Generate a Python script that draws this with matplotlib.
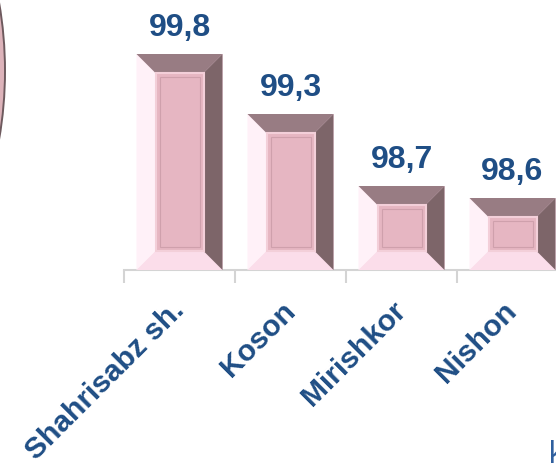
import matplotlib
matplotlib.use("Agg")
import matplotlib.pyplot as plt
from matplotlib.patches import Polygon, Rectangle, Ellipse
from matplotlib.transforms import ScaledTranslation

# data
districts = ["Shahrisabz sh.", "Koson", "Mirishkor", "Nishon"]
values = [99.8, 99.3, 98.7, 98.6]
value_labels = ["99,8", "99,3", "98,7", "98,6"]

plt.rcParams["font.family"] = ["Liberation Sans", "DejaVu Sans"]

W, H, DPI = 556, 466, 100
fig = plt.figure(figsize=(W / DPI, H / DPI), dpi=DPI)
fig.patch.set_facecolor("white")

# background layer in pixel coords for the cut-off decorative circle
bg = fig.add_axes([0, 0, 1, 1], zorder=-1)
bg.set_xlim(0, W)
bg.set_ylim(H, 0)
bg.axis("off")
bg.add_patch(Ellipse((-300, 71), 610, 700, facecolor="#DDB3BA",
                     edgecolor="#6E5A5E", linewidth=1.4))

# axes: baseline at y=270px, category width 111px, first boundary at x=124px
ax_left, ax_bottom = 124, H - 270
ax_w, ax_h = 111 * 4, 240
ax = fig.add_axes([ax_left / W, ax_bottom / H, ax_w / W, ax_h / H])
ax.set_xlim(-0.5, 3.5)
ax.set_ylim(98.0, 100.0)
ax.patch.set_alpha(0)

x = list(range(len(districts)))
bar_w = 86 / 111
bars = ax.bar(x, [v - 98.0 for v in values], bottom=98.0, width=bar_w,
              color="#FCE2EE", linewidth=0, zorder=2)

# bevel size in data units
bev_px = 19
dx = bev_px * 4 / ax_w
dy = bev_px * 2.0 / ax_h

for b in bars:
    x0, x1 = b.get_x(), b.get_x() + b.get_width()
    y0, y1 = b.get_y(), b.get_y() + b.get_height()
    top = [(x0, y1), (x1, y1), (x1 - dx, y1 - dy), (x0 + dx, y1 - dy)]
    right = [(x1, y1), (x1, y0), (x1 - dx, y0 + dy), (x1 - dx, y1 - dy)]
    bottom = [(x0, y0), (x1, y0), (x1 - dx, y0 + dy), (x0 + dx, y0 + dy)]
    left = [(x0, y0), (x0, y1), (x0 + dx, y1 - dy), (x0 + dx, y0 + dy)]
    ax.add_patch(Polygon(bottom, closed=True, facecolor="#FBDDEA", edgecolor="none", zorder=3))
    ax.add_patch(Polygon(left, closed=True, facecolor="#FFF1F8", edgecolor="none", zorder=3))
    ax.add_patch(Polygon(top, closed=True, facecolor="#987C83", edgecolor="none", zorder=3))
    ax.add_patch(Polygon(right, closed=True, facecolor="#7D6569", edgecolor="none", zorder=3))
    ax.add_patch(Rectangle((x0 + dx, y0 + dy), (x1 - x0) - 2 * dx, (y1 - y0) - 2 * dy,
                           facecolor="#E6B6C2", edgecolor="#F3CFD9", linewidth=1.5, zorder=4))
    ix, iy = 4 * 4 / ax_w, 4 * 2.0 / ax_h
    ax.add_patch(Rectangle((x0 + dx + ix, y0 + dy + iy), (x1 - x0) - 2 * dx - 2 * ix,
                           (y1 - y0) - 2 * dy - 2 * iy,
                           facecolor="none", edgecolor="#CFA0AC", linewidth=0.8, zorder=5))

for xi, v, lab in zip(x, values, value_labels):
    ax.annotate(lab, (xi, v), xytext=(0, 8), textcoords="offset points",
                ha="center", va="bottom", fontsize=23, fontweight="bold",
                color="#1F4E85", annotation_clip=False)

# axis styling
for s in ["top", "right", "left"]:
    ax.spines[s].set_visible(False)
ax.spines["bottom"].set_color("#D4D4D4")
ax.spines["bottom"].set_linewidth(1.5)
ax.set_yticks([])
ax.set_xticks(x)
ax.set_xticklabels(districts, rotation=45, ha="right", fontsize=21.5,
                   fontweight="bold", color="#1F4E85")
ax.set_xticks([i - 0.5 for i in range(len(districts) + 1)], minor=True)
ax.tick_params(axis="x", which="major", length=0, pad=19)
ax.tick_params(axis="x", which="minor", length=9, width=1.5, color="#D4D4D4")
shift = ScaledTranslation(10 / DPI, 0, fig.dpi_scale_trans)
for t in ax.get_xticklabels():
    t.set_transform(t.get_transform() + shift)

# cut-off text at the bottom right
fig.text(549 / W, 3 / H, "k", fontsize=22, color="#2F5F9E", ha="left", va="baseline")

fig.savefig("out.png", dpi=DPI)
